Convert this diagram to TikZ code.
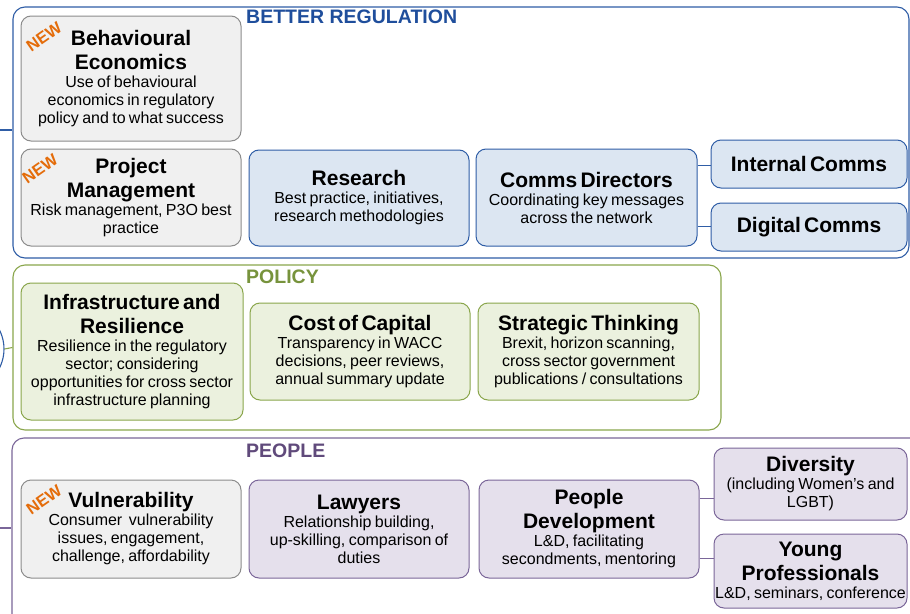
\documentclass[tikz,border=0pt]{standalone}
\usepackage{fontspec}
\setmainfont{Liberation Sans}
\newfontfamily\bodyfam{Liberation Sans}[WordSpace=0.5]
\usetikzlibrary{positioning}

\definecolor{regblue}{HTML}{2F5DA6}
\definecolor{regtext}{HTML}{1F4E9C}
\definecolor{regfill}{HTML}{DCE6F2}
\definecolor{polgreen}{HTML}{8AA64C}
\definecolor{poltext}{HTML}{77933C}
\definecolor{polfill}{HTML}{EBF1DE}
\definecolor{pplpurple}{HTML}{7A6699}
\definecolor{ppltext}{HTML}{604A7B}
\definecolor{pplfill}{HTML}{E5E0EC}
\definecolor{newgray}{HTML}{8C8C8C}
\definecolor{newfill}{HTML}{F0F0F0}
\definecolor{neworange}{HTML}{E46C0A}

\newcommand\itemtitle{\fontsize{21}{24}\selectfont\bfseries}
\newcommand\itemtext{\bodyfam\fontsize{16}{18}\selectfont}

\begin{document}
\begin{tikzpicture}[x=1pt,y=-1pt]
\tikzstyle{every node}+=[inner sep=0pt]
\tikzstyle{frame}=[draw, rounded corners=12pt, line width=1.1pt]
\tikzstyle{grouplabel}=[anchor=west, font=\fontsize{19.5}{20}\selectfont\bfseries]
\tikzstyle{item}=[rounded corners=10pt, line width=1pt, inner xsep=3pt, align=center]
\tikzstyle{greybox}=[item, draw=newgray, fill=newfill]
\tikzstyle{regbox}=[item, draw=regblue, fill=regfill]
\tikzstyle{polbox}=[item, draw=polgreen, fill=polfill]
\tikzstyle{pplbox}=[item, draw=pplpurple, fill=pplfill]
\tikzstyle{newtag}=[text=neworange, rotate=35, font=\fontsize{16.5}{17}\selectfont\bfseries]
\useasboundingbox (0,0) rectangle (910,613);
\clip (0,0) rectangle (910,613);
\fill [white] (0,0) rectangle (910,613);

\node [frame, draw=regblue, minimum width=896, minimum height=251] (better) at (461,132.5) {};
\node [frame, draw=polgreen, minimum width=708, minimum height=165] (policy) at (367,347.5) {};
\node [frame, draw=pplpurple, minimum width=930, minimum height=200] (people) at (477,538) {};
\node [circle, draw=regblue, line width=1.1pt, minimum size=84] (hub) at (-38,349) {};
\coordinate (betterin) at (0,130);
\coordinate (peoplein) at (0,528);
\draw [regblue, line width=1.1pt] (betterin) -- (betterin -| better.west);
\draw [polgreen, line width=1.1pt] (hub.east) -- (policy.west);
\draw [pplpurple, line width=1.1pt] (peoplein) -- (peoplein -| people.west);

\node [grouplabel, text=regtext] (bettertitle) at (246,17) {BETTER REGULATION};
\node [grouplabel, text=poltext] (policytitle) at (246,277) {POLICY};
\node [grouplabel, text=ppltext] (peopletitle) at (246,451) {PEOPLE};

\node [greybox, text width=214, minimum height=125] (behecon) at (131,78.5)
  {{\itemtitle Behavioural\\Economics\par}\itemtext Use of behavioural\\economics in regulatory\\policy and to what success\par};
\node [greybox, text width=214, minimum height=97] (project) at (131,197.5)
  {{\itemtitle Project\\Management\par}\itemtext Risk management, P3O best\\practice\par};
\node [regbox, text width=214, minimum height=96] (research) at (359,198)
  {{\itemtitle Research\par}\itemtext Best practice, initiatives,\\research methodologies\par};
\node [regbox, text width=215, minimum height=97] (comms) at (586.5,197.5)
  {{\itemtitle Comms Directors\par}\itemtext Coordinating key messages\\across the network\par};
\node [regbox, text width=190, minimum height=48] (intcomms) at (809,164)
  {\itemtitle Internal Comms\par};
\node [regbox, text width=190, minimum height=48] (digcomms) at (809,227)
  {\itemtitle Digital Comms\par};
\draw [regblue, line width=1pt] ([yshift=32pt]comms.east) coordinate (c1) -- (c1 -| intcomms.west);
\draw [regblue, line width=1pt] ([yshift=-29pt]comms.east) coordinate (c2) -- (c2 -| digcomms.west);

\node [polbox, text width=216, minimum height=137] (infra) at (132,351.5)
  {{\itemtitle Infrastructure and\\Resilience\par}\itemtext Resilience in the regulatory\\sector; considering\\opportunities for cross sector\\infrastructure planning\par};
\node [polbox, text width=214, minimum height=97] (capital) at (360,351.5)
  {{\itemtitle Cost of Capital\par}\itemtext Transparency in WACC\\decisions, peer reviews,\\annual summary update\par};
\node [polbox, text width=215, minimum height=97] (strategic) at (588.5,351.5)
  {{\itemtitle Strategic Thinking\par}\itemtext Brexit, horizon scanning,\\cross sector government\\publications / consultations\par};

\node [greybox, text width=214, minimum height=98] (vuln) at (131,529)
  {{\itemtitle Vulnerability\par}\itemtext Consumer\ \ vulnerability\\issues, engagement,\\challenge, affordability\par};
\node [pplbox, text width=214, minimum height=98] (lawyers) at (359,529)
  {{\itemtitle Lawyers\par}\itemtext Relationship building,\\up-skilling, comparison of\\duties\par};
\node [pplbox, text width=214, minimum height=98] (develop) at (589,529)
  {{\itemtitle People\\Development\par}\itemtext L\&D, facilitating\\secondments, mentoring\par};
\node [pplbox, text width=187, minimum height=72] (diverse) at (810.5,484)
  {{\itemtitle Diversity\par}\itemtext (including Women’s and\\LGBT)\par};
\node [pplbox, text width=187, minimum height=74] (young) at (810.5,571)
  {{\itemtitle Young\\Professionals\par}\itemtext\makebox[\linewidth]{L\&D, seminars, conference}\par};
\draw [pplpurple, line width=1pt] ([yshift=31pt]develop.east) coordinate (d1) -- (d1 -| diverse.west);
\draw [pplpurple, line width=1pt] ([yshift=-29pt]develop.east) coordinate (d2) -- (d2 -| young.west);

\node [newtag] (newbehecon) at (44,37) {NEW};
\node [newtag] (newproject) at (40,169) {NEW};
\node [newtag] (newvuln) at (44,500) {NEW};
\end{tikzpicture}
\end{document}
